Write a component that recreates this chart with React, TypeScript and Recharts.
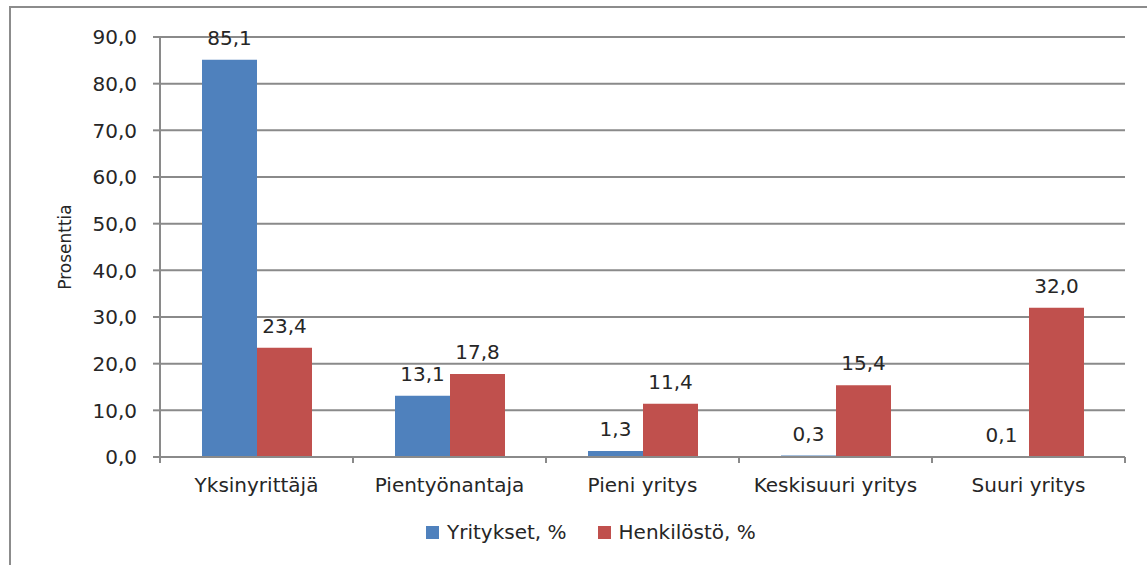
import React from 'react';
import { BarChart, Bar, XAxis, YAxis, CartesianGrid, Legend, LabelList, Label } from 'recharts';

const categories = ['Yksinyrittäjä', 'Pientyönantaja', 'Pieni yritys', 'Keskisuuri yritys', 'Suuri yritys'];
const yritykset = [85.1, 13.1, 1.3, 0.3, 0.1];
const henkilosto = [23.4, 17.8, 11.4, 15.4, 32.0];
const yTicks = [0, 10, 20, 30, 40, 50, 60, 70, 80, 90];
const seriesNames = ['Yritykset, %', 'Henkilöstö, %'];
const yAxisTitle = 'Prosenttia';

const data = categories.map((c, i) => ({ name: c, yritykset: yritykset[i], henkilosto: henkilosto[i] }));

const W = 1147;
const H = 565;
const MARGIN = { top: 37, right: 22, bottom: 44, left: 0 };
const Y_AXIS_W = 160;
const X_AXIS_H = 30;
const X_TICK_MARGIN = 21;
const BAND = (W - MARGIN.left - MARGIN.right - Y_AXIS_W) / categories.length;
const FONT = '"DejaVu Sans", Verdana, sans-serif';
const FS = 20;
const TEXT = '#262626';
const GRID = '#8a8a8a';
const BLUE = '#4F81BD';
const RED = '#C0504D';

const fmt = (v: number) => v.toFixed(1).replace('.', ',');

const XTick = (props: any) => {
  const { x, y, payload, index } = props;
  const axisY = y - X_TICK_MARGIN;
  const half = BAND / 2;
  return (
    <g>
      <line x1={x - half} x2={x - half} y1={axisY} y2={axisY + 6} stroke={GRID} strokeWidth={2} />
      {index === categories.length - 1 && (
        <line x1={x + half} x2={x + half} y1={axisY} y2={axisY + 6} stroke={GRID} strokeWidth={2} />
      )}
      <text x={x} y={y} dy="0.68em" textAnchor="middle" fontFamily={FONT} fontSize={FS} fill={TEXT}>
        {payload.value}
      </text>
    </g>
  );
};

const YTick = (props: any) => {
  const { x, y, payload } = props;
  return (
    <text x={x} y={y} dy="0.36em" textAnchor="end" fontFamily={FONT} fontSize={FS} fill={TEXT}>
      {fmt(payload.value)}
    </text>
  );
};

const ValueLabel = (props: any) => {
  const { x, y, width, value } = props;
  return (
    <text x={x + width / 2} y={y - 15} textAnchor="middle" fontFamily={FONT} fontSize={FS} fill={TEXT}>
      {fmt(value)}
    </text>
  );
};

const YTitle = (props: any) => {
  const { viewBox } = props;
  const cx = viewBox.x + 65;
  const cy = viewBox.y + viewBox.height / 2;
  return (
    <text x={cx} y={cy} transform={`rotate(-90 ${cx} ${cy})`} textAnchor="middle" dominantBaseline="central" fontFamily={FONT} fontSize={17} fill={TEXT}>
      {yAxisTitle}
    </text>
  );
};

const LegendContent = () => (
  <div style={{ display: 'flex', alignItems: 'center', height: 34, fontFamily: FONT, fontSize: FS, color: TEXT }}>
    <span style={{ display: 'inline-block', width: 13, height: 13, background: BLUE, marginRight: 8 }} />
    <span style={{ marginRight: 31 }}>{seriesNames[0]}</span>
    <span style={{ display: 'inline-block', width: 13, height: 13, background: RED, marginRight: 8 }} />
    <span>{seriesNames[1]}</span>
  </div>
);

export default function App() {
  return (
    <div style={{ position: 'absolute', left: 0, top: 0, width: W, height: H, background: '#fff', overflow: 'hidden' }}>
      <div style={{ position: 'absolute', left: 9, top: 6, width: W, height: H, borderLeft: '2px solid #8c8c8c', borderTop: '2px solid #8c8c8c' }} />
      <div style={{ position: 'absolute', left: 0, top: 0 }}>
        <BarChart width={W} height={H} data={data} margin={MARGIN} barGap={0} barSize={55}>
          <CartesianGrid vertical={false} stroke={GRID} strokeWidth={2} />
          <XAxis
            dataKey="name"
            height={X_AXIS_H}
            axisLine={{ stroke: GRID, strokeWidth: 2 }}
            tickLine={false}
            tickSize={0}
            tickMargin={X_TICK_MARGIN}
            tick={<XTick />}
            interval={0}
          />
          <YAxis
            width={Y_AXIS_W}
            domain={[0, 90]}
            ticks={yTicks}
            axisLine={{ stroke: GRID, strokeWidth: 2 }}
            tickLine={{ stroke: GRID, strokeWidth: 2 }}
            tickSize={7}
            tickMargin={16}
            tick={<YTick />}
            label={<Label content={<YTitle />} />}
          />
          <Legend verticalAlign="bottom" content={<LegendContent />} wrapperStyle={{ left: 426, top: 515, width: 400 }} />
          <Bar dataKey="yritykset" name={seriesNames[0]} fill={BLUE} isAnimationActive={false}>
            <LabelList dataKey="yritykset" content={<ValueLabel />} />
          </Bar>
          <Bar dataKey="henkilosto" name={seriesNames[1]} fill={RED} isAnimationActive={false}>
            <LabelList dataKey="henkilosto" content={<ValueLabel />} />
          </Bar>
        </BarChart>
      </div>
    </div>
  );
}
